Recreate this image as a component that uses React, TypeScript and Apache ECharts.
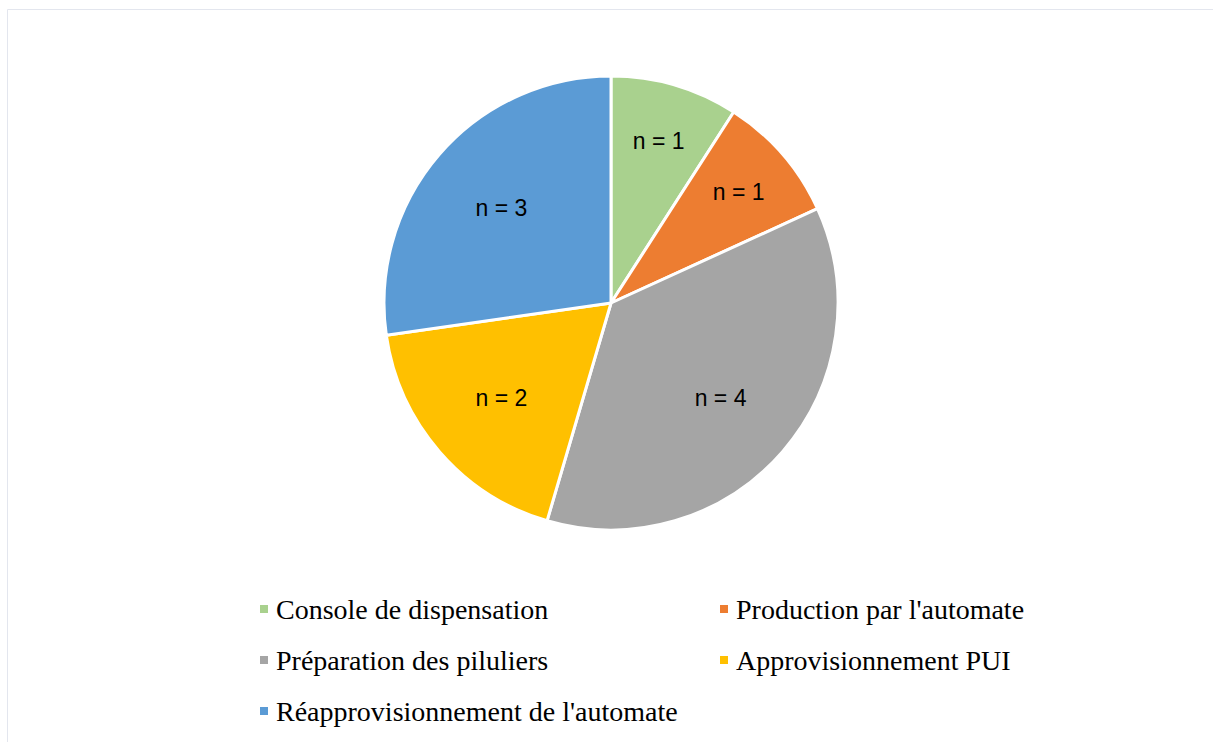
import React, { useEffect, useRef } from "react";
import * as echarts from "echarts";

const categories = [
  "Console de dispensation",
  "Production par l'automate",
  "Préparation des piluliers",
  "Approvisionnement PUI",
  "Réapprovisionnement de l'automate",
];
const values = [1, 1, 4, 2, 3];
const colors = ["#A9D18E", "#ED7D31", "#A5A5A5", "#FFC000", "#5B9BD5"];
const labelTexts = values.map((v) => `n = ${v}`);
const outerLabelGroup = [true, true, false, false, false];
const leftLegend = [categories[0], categories[2], categories[4]];
const rightLegend = [categories[1], categories[3]];

export default function App() {
  const ref = useRef<HTMLDivElement>(null);
  useEffect(() => {
    if (!ref.current) return;
    const chart = echarts.init(ref.current, null, { renderer: "svg" });
    const center = [611, 303];
    const baseData = categories.map((name, i) => ({
      name,
      value: values[i],
      itemStyle: { color: colors[i] },
    }));
    const overlay = (show: boolean[], radius: number[]) => ({
      type: "pie",
      center,
      radius,
      startAngle: 90,
      clockwise: true,
      silent: true,
      animation: false,
      itemStyle: { color: "rgba(0,0,0,0)", borderWidth: 0 },
      emphasis: { disabled: true },
      labelLine: { show: false },
      data: categories.map((name, i) => ({
        name,
        value: values[i],
        itemStyle: { color: "rgba(0,0,0,0)" },
        label: {
          show: show[i],
          position: "inside",
          formatter: labelTexts[i],
          color: "#000",
          fontFamily: "Liberation Sans",
          fontSize: 23,
        },
      })),
    });
    const legendCommon = {
      orient: "vertical",
      top: 595,
      padding: 0,
      itemWidth: 10,
      itemHeight: 10,
      icon: "rect",
      itemGap: 23,
      selectedMode: false,
      textStyle: {
        fontFamily: "Liberation Serif",
        fontSize: 28,
        lineHeight: 28,
        color: "#000",
        padding: [0, 0, 0, 2],
      },
    };
    chart.setOption({
      animation: false,
      backgroundColor: "#fff",
      graphic: [
        {
          type: "rect",
          shape: { x: 7.5, y: 9.5, width: 1300, height: 800 },
          style: { fill: "none", stroke: "#E3E6EE", lineWidth: 1 },
          silent: true,
        },
      ],
      legend: [
        { ...legendCommon, left: 258, data: leftLegend },
        { ...legendCommon, left: 718, data: rightLegend },
      ],
      series: [
        {
          type: "pie",
          center,
          radius: [0, 227],
          startAngle: 90,
          clockwise: true,
          animation: false,
          itemStyle: { borderColor: "#fff", borderWidth: 3 },
          label: { show: false },
          labelLine: { show: false },
          emphasis: { disabled: true },
          data: baseData,
        },
        overlay(outerLabelGroup, [130, 202]),
        overlay(outerLabelGroup.map((b) => !b), [110, 174]),
      ],
    });
    return () => chart.dispose();
  }, []);
  return (
    <div
      ref={ref}
      style={{ position: "absolute", left: 0, top: 0, width: 1213, height: 742 }}
    />
  );
}
